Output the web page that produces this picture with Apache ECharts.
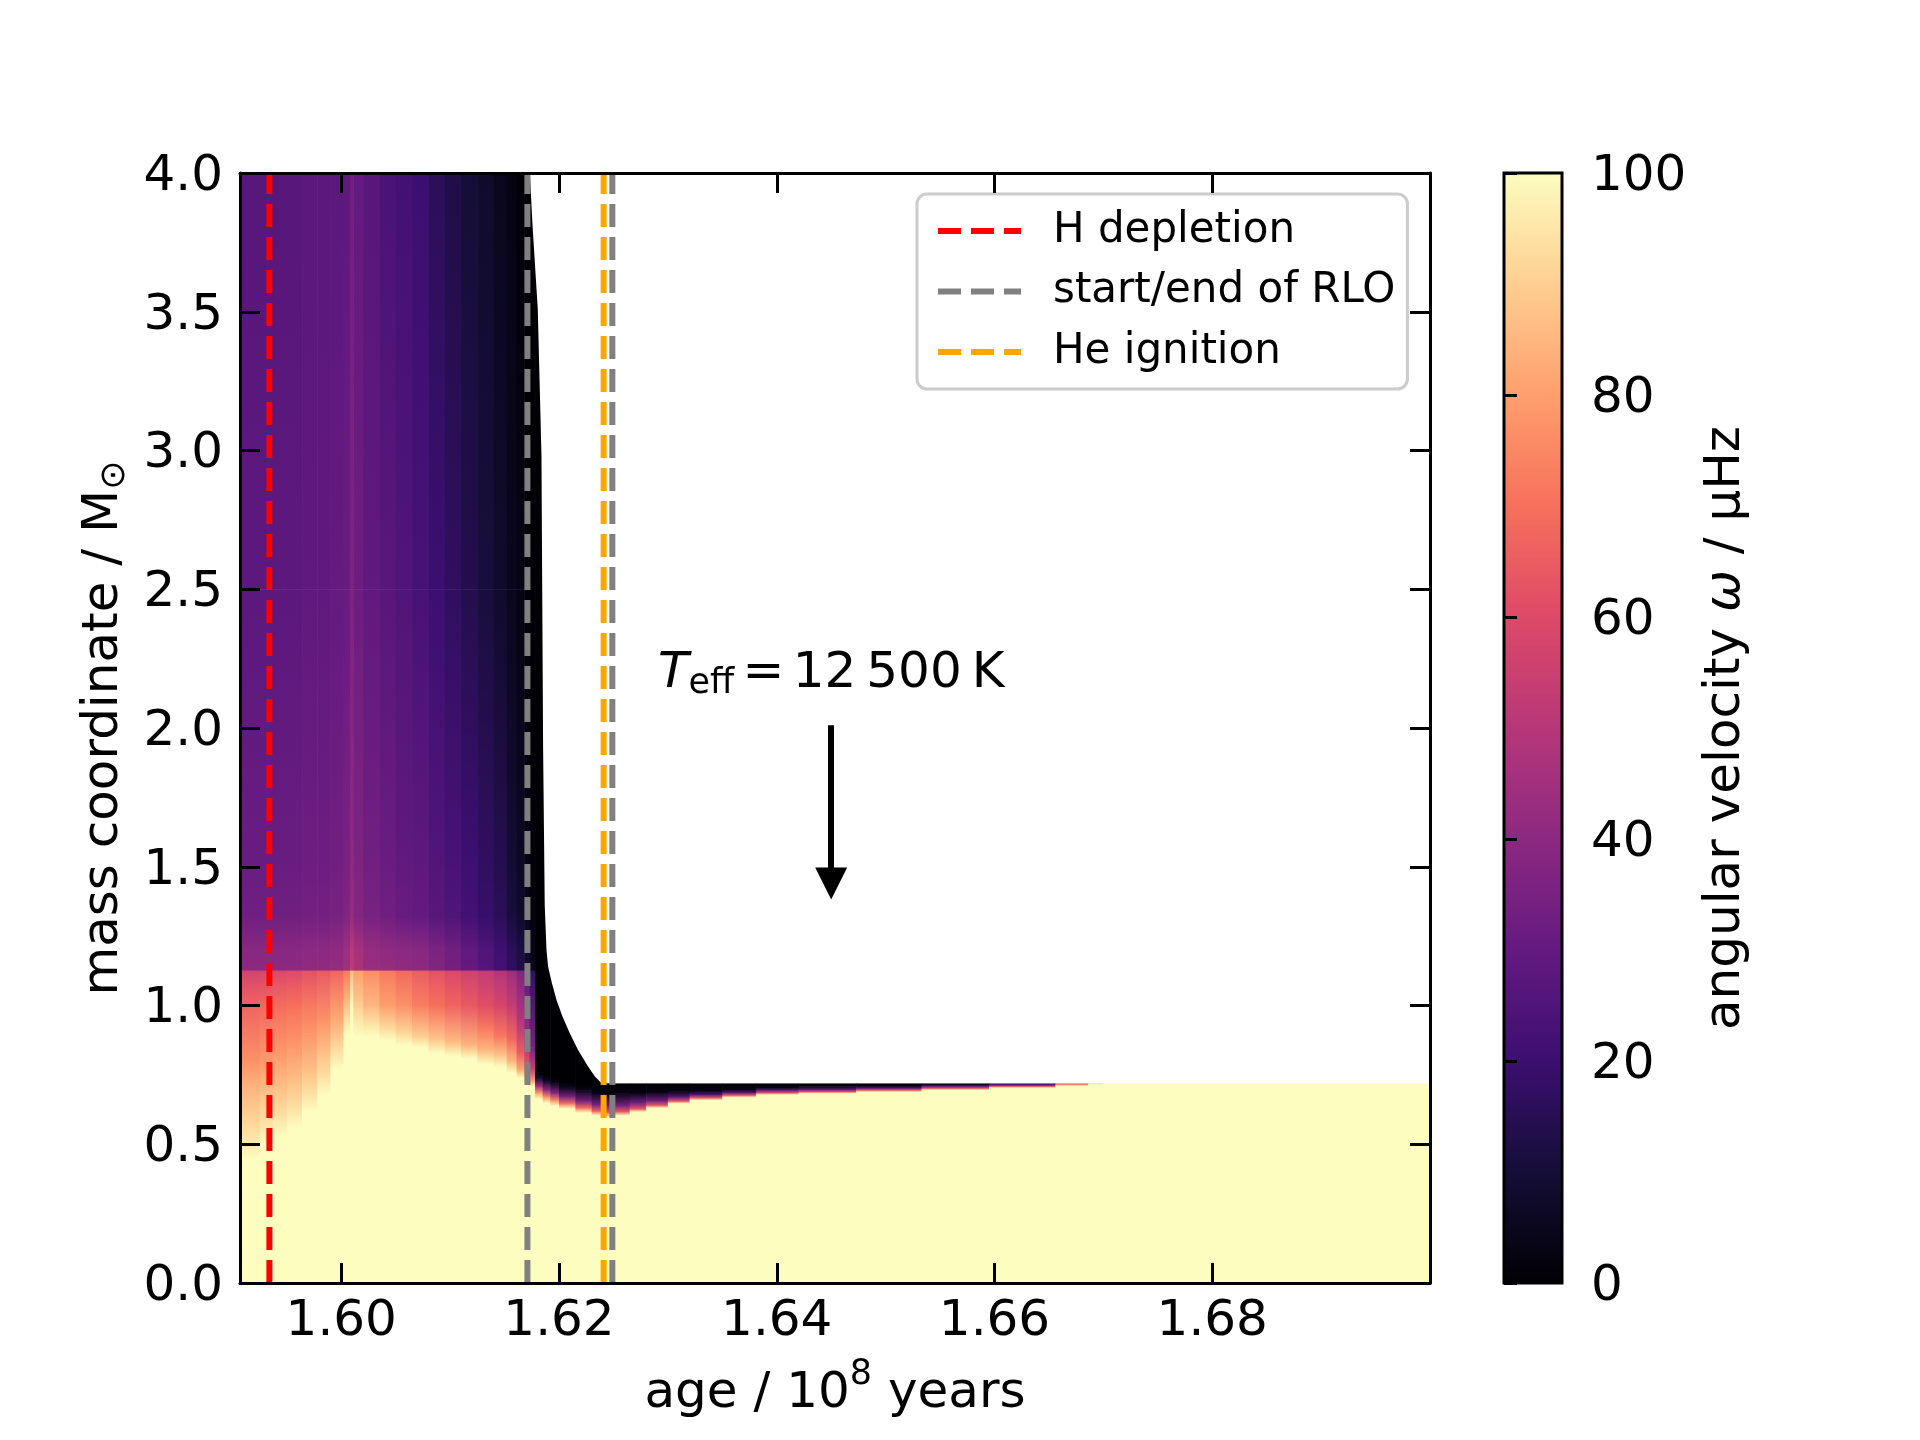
<!DOCTYPE html>
<html>
<head>
<meta charset="utf-8">
<title>angular velocity profile</title>
<script src="https://cdn.jsdelivr.net/npm/echarts@6.0.0/dist/echarts.min.js"></script>
<style>
html,body{margin:0;padding:0;background:#fff;}
#main{width:1920px;height:1440px;}
</style>
</head>
<body>
<div id="main"></div>
<script>
var FONT = 'DejaVu Sans';

// axis ranges and tick labels
var xMin = 1.5907, xMax = 1.70;
var yMin = 0, yMax = 4;
var xTicks = [1.60, 1.62, 1.64, 1.66, 1.68];
var cbMin = 0, cbMax = 100;

// matplotlib magma, 0 .. 1 in steps of 0.1
var magma = ['#000004','#140e36','#3b0f70','#641a80','#8c2981','#b73779',
             '#de4968','#f7705c','#fe9f6d','#fecf92','#fcfdbf'];

// left edge of each model column (age / 1e8 yr), last one runs to xMax
var colAge = [
  1.5907, 1.5925, 1.5937, 1.5950, 1.5964, 1.5978, 1.5990, 1.6002, 1.6008, 1.6011,
  1.6020, 1.6035, 1.6050, 1.6065, 1.6080, 1.6095, 1.6110, 1.6125, 1.6140, 1.6152,
  1.6161, 1.6168, 1.6173,
  1.6178, 1.6185, 1.6192, 1.6200, 1.6215, 1.6230, 1.6240,
  1.6250, 1.6265, 1.6280, 1.6300, 1.6320, 1.6350, 1.6381, 1.6420, 1.6473, 1.6533,
  1.6595, 1.6656, 1.6686, 1.6700
];

// omega profile of each column: [mass coordinate, omega / muHz], from centre outwards
var profiles = [
  [[0,100],[0.45,100],[0.50,96],[0.59,91],[0.71,84],[0.80,77],[1.0,67],[1.128,57],[1.128,40],[1.20,39],[1.32,33],[1.55,31],[2.5,28],[4,27]],
  [[0,100],[0.50,100],[0.56,95],[0.66,89],[0.78,80],[1.0,68],[1.128,58],[1.128,40],[1.20,39],[1.32,33],[1.55,31],[2.5,28],[4,27]],
  [[0,100],[0.53,100],[0.60,94],[0.70,87],[0.82,79],[1.0,69],[1.128,59],[1.128,40],[1.20,39],[1.32,33],[1.55,31],[2.5,28],[4,27]],
  [[0,100],[0.56,100],[0.63,94],[0.74,86],[0.86,78],[1.0,70],[1.128,60],[1.128,40],[1.20,39],[1.32,33],[1.55,31],[2.5,28],[4,27]],
  [[0,100],[0.62,100],[0.68,94],[0.78,86],[0.90,78],[1.0,72],[1.128,62],[1.128,41],[1.20,40],[1.32,34],[1.55,32],[2.5,29],[4,28]],
  [[0,100],[0.68,100],[0.74,94],[0.84,86],[0.95,77],[1.128,64],[1.128,41],[1.20,40],[1.32,34],[1.55,32],[2.5,29],[4,28]],
  [[0,100],[0.77,100],[0.83,94],[0.92,85],[1.0,78],[1.128,67],[1.128,42],[1.20,41],[1.32,35],[1.55,33],[2.5,30],[4,28]],
  [[0,100],[0.90,100],[0.96,92],[1.04,82],[1.128,72],[1.128,45],[1.20,44],[1.32,37],[1.55,35],[2.5,31],[4,29]],
  [[0,100],[1.00,100],[1.07,92],[1.128,86],[1.128,52],[1.20,51],[1.32,42],[1.55,40],[2.5,36],[4,33]],
  [[0,100],[0.89,100],[0.95,95],[1.02,88],[1.128,80],[1.128,47],[1.20,46],[1.32,38],[1.55,36],[2.5,32],[4,30]],
  [[0,100],[0.89,100],[0.93,95],[1.0,85],[1.128,76],[1.128,43],[1.20,42],[1.32,35],[1.55,33],[2.5,29],[4,27]],
  [[0,100],[0.875,100],[0.91,94],[1.0,80],[1.128,72],[1.128,42],[1.20,41],[1.32,33],[1.55,31],[2.5,27],[4,24]],
  [[0,100],[0.86,100],[0.90,92],[1.0,77],[1.128,68],[1.128,41],[1.20,40],[1.32,31],[1.55,29],[2.5,25],[4,22]],
  [[0,100],[0.85,100],[0.89,90],[1.0,73],[1.128,65],[1.128,40],[1.20,39],[1.32,30],[1.55,28],[2.5,23],[4,20]],
  [[0,100],[0.83,100],[0.88,88],[1.0,70],[1.128,62],[1.128,37],[1.20,36],[1.32,27],[1.55,25],[2.5,20],[4,16]],
  [[0,100],[0.82,100],[0.87,86],[1.0,67],[1.128,59],[1.128,34],[1.20,33],[1.32,25],[1.55,23],[2.5,17],[4,13]],
  [[0,100],[0.81,100],[0.86,84],[1.0,64],[1.128,56],[1.128,30],[1.20,29],[1.32,22],[1.55,20],[2.5,14],[4,10]],
  [[0,100],[0.79,100],[0.84,85],[0.92,72],[1.0,61],[1.128,53],[1.128,26],[1.20,25],[1.32,19],[1.55,17],[2.5,11],[4,8]],
  [[0,100],[0.78,100],[0.82,88],[0.89,72],[1.0,58],[1.128,49],[1.128,22],[1.20,21],[1.32,16],[1.55,14],[2.5,8],[4,5]],
  [[0,100],[0.76,100],[0.80,85],[0.88,68],[1.0,53],[1.128,44],[1.128,17],[1.20,16],[1.32,11],[1.55,9],[2.5,5],[4,3]],
  [[0,100],[0.74,100],[0.77,82],[0.83,65],[0.94,50],[1.128,37],[1.128,13],[1.20,12],[1.32,8],[1.55,6],[2.5,3],[4,1]],
  [[0,100],[0.72,100],[0.75,80],[0.80,60],[0.90,42],[1.128,28],[1.128,9],[1.20,8],[1.32,5],[1.55,3],[2.5,1],[4,0]],
  [[0,100],[0.71,100],[0.73,80],[0.77,55],[0.85,35],[1.128,18],[1.128,5],[1.20,4],[1.32,2],[1.55,1],[4,0]],
  // mass transfer: envelope spun down to ~0
  [[0,100],[0.665,100],[0.685,80],[0.71,45],[0.74,10],[0.76,0],[4,0]],
  [[0,100],[0.65,100],[0.67,78],[0.695,42],[0.73,6],[0.75,0],[4,0]],
  [[0,100],[0.64,100],[0.66,75],[0.685,40],[0.72,5],[0.74,0],[4,0]],
  [[0,100],[0.63,100],[0.647,72],[0.67,38],[0.705,5],[0.725,0],[4,0]],
  [[0,100],[0.615,100],[0.632,70],[0.655,36],[0.695,4],[0.715,0],[4,0]],
  [[0,100],[0.605,100],[0.62,68],[0.643,35],[0.685,4],[0.705,0],[4,0]],
  [[0,100],[0.60,100],[0.615,66],[0.637,35],[0.68,3],[0.70,0],[4,0]],
  // stripped helium star
  [[0,100],[0.605,100],[0.618,65],[0.64,35],[0.684,3],[0.72,0]],
  [[0,100],[0.618,100],[0.628,65],[0.648,35],[0.686,3],[0.72,0]],
  [[0,100],[0.632,100],[0.641,65],[0.658,33],[0.689,3],[0.72,0]],
  [[0,100],[0.648,100],[0.656,65],[0.670,30],[0.691,3],[0.72,0]],
  [[0,100],[0.660,100],[0.668,65],[0.680,25],[0.694,3],[0.72,0]],
  [[0,100],[0.670,100],[0.677,65],[0.688,25],[0.699,3],[0.72,0]],
  [[0,100],[0.680,100],[0.686,65],[0.695,30],[0.706,3],[0.72,0]],
  [[0,100],[0.685,100],[0.690,65],[0.698,30],[0.709,3],[0.72,0]],
  [[0,100],[0.690,100],[0.696,65],[0.703,30],[0.711,3],[0.72,0]],
  [[0,100],[0.697,100],[0.702,65],[0.710,30],[0.716,8],[0.72,3]],
  [[0,100],[0.705,100],[0.709,65],[0.715,30],[0.72,20]],
  [[0,100],[0.712,100],[0.716,75],[0.72,65]],
  [[0,100],[0.716,100],[0.72,90]],
  [[0,100],[0.72,100]]
];

// stellar surface (mass coordinate of the surface vs age) once RLO starts
var surfAge  = [1.61732,1.61757,1.61805,1.61839,1.61854,1.61869,1.61885,1.61900,1.61935,
                1.61977,1.62032,1.62099,1.62175,1.62267,1.62328,1.62390,1.70000];
var surfMass = [4.00,3.81,3.51,2.98,1.93,1.36,1.20,1.14,1.08,
                1.02,0.96,0.90,0.84,0.78,0.745,0.7196,0.7196];

// events
var hDepletion = 1.5934;
var rloStart = 1.6171, rloEnd = 1.6249;
var heIgnition = 1.6241;

// annotation
var teffAge = 1.645, teffTextMass = 2.19, arrowFrom = 2.01, arrowTo = 1.44;

function cmap(w) {
  return echarts.color.lerp(Math.max(0, Math.min(1, (w - cbMin) / (cbMax - cbMin))), magma);
}

var cells = [];
for (var i = 0; i < colAge.length; i++) {
  var a0 = colAge[i];
  var a1 = i + 1 < colAge.length ? colAge[i + 1] : xMax;
  var p = profiles[i];
  for (var j = 0; j + 1 < p.length; j++) {
    if (p[j + 1][0] > p[j][0]) {
      cells.push([a0, a1, p[j][0], p[j + 1][0], p[j][1], p[j + 1][1]]);
    }
  }
}

function renderCell(params, api) {
  var tl = api.coord([api.value(0), api.value(3)]);
  var br = api.coord([api.value(1), api.value(2)]);
  return {
    type: 'rect',
    shape: { x: tl[0], y: tl[1], width: br[0] - tl[0] + 0.6, height: br[1] - tl[1] + 0.6 },
    style: {
      fill: new echarts.graphic.LinearGradient(0, 0, 0, 1, [
        { offset: 0, color: cmap(api.value(5)) },
        { offset: 1, color: cmap(api.value(4)) }
      ])
    }
  };
}

function renderSurface(params, api) {
  if (params.dataIndex !== 0) return null;
  var pts = [];
  for (var i = 0; i < surfAge.length; i++) pts.push(api.coord([surfAge[i], surfMass[i]]));
  pts.push(api.coord([xMax, yMax]));
  return { type: 'polygon', shape: { points: pts }, style: { fill: '#ffffff' } };
}

function renderColorbar(params, api) {
  var tl = api.coord([0, cbMax]);
  var br = api.coord([1, cbMin]);
  var stops = [];
  for (var k = 0; k < magma.length; k++) {
    stops.push({ offset: k / (magma.length - 1), color: magma[magma.length - 1 - k] });
  }
  return {
    type: 'rect',
    shape: { x: tl[0], y: tl[1], width: br[0] - tl[0], height: br[1] - tl[1] },
    style: { fill: new echarts.graphic.LinearGradient(0, 0, 0, 1, stops), stroke: '#000', lineWidth: 3 }
  };
}

function vline(name, x, color) {
  return {
    name: name, type: 'line', xAxisIndex: 0, yAxisIndex: 0,
    data: [[x, yMin], [x, yMax]],
    symbol: 'none', silent: true, z: 3, clip: true,
    itemStyle: { color: color },
    lineStyle: { color: color, width: 6, type: [23, 10] }
  };
}

var blackLine = { color: '#000', width: 3 };
var tickFont = { fontFamily: FONT, fontSize: 50, color: '#000' };
// tick labels sit a few px lower than ECharts centres them
var tickRich = { v: { fontFamily: FONT, fontSize: 50, color: '#000', padding: [8, 0, 0, 0] } };

var chart = echarts.init(document.getElementById('main'));

chart.setOption({
  animation: false,
  backgroundColor: '#ffffff',
  textStyle: { fontFamily: FONT },
  grid: [
    { left: 240, top: 173, width: 1190, height: 1110, outerBoundsMode: 'none' },
    { left: 1504, top: 173, width: 58, height: 1110, outerBoundsMode: 'none' }
  ],
  xAxis: [
    {
      gridIndex: 0, type: 'value', min: xMin, max: xMax, position: 'bottom', z: 10,
      axisLine: { show: true, onZero: false, lineStyle: blackLine },
      axisTick: { show: true, inside: true, length: 20, lineStyle: blackLine, customValues: xTicks },
      axisLabel: Object.assign({ show: true, margin: 14, customValues: xTicks,
        formatter: function (v) { return v.toFixed(2); } }, tickFont),
      splitLine: { show: false },
      name: '{n|age / 10}{p|8}{n| years}',
      nameLocation: 'middle', nameGap: 74,
      nameTextStyle: {
        rich: {
          n: { fontFamily: FONT, fontSize: 50, color: '#000', verticalAlign: 'bottom', padding: [12, 0, 0, 0] },
          p: { fontFamily: FONT, fontSize: 35, color: '#000', verticalAlign: 'top' }
        }
      }
    },
    {
      gridIndex: 0, type: 'value', min: xMin, max: xMax, position: 'top', z: 10,
      axisLine: { show: true, onZero: false, lineStyle: blackLine },
      axisTick: { show: true, inside: true, length: 20, lineStyle: blackLine, customValues: xTicks },
      axisLabel: { show: false },
      splitLine: { show: false }
    },
    { gridIndex: 1, type: 'value', min: 0, max: 1, show: false }
  ],
  yAxis: [
    {
      gridIndex: 0, type: 'value', min: yMin, max: yMax, interval: 0.5, position: 'left', z: 10,
      axisLine: { show: true, onZero: false, lineStyle: blackLine },
      axisTick: { show: true, inside: true, length: 20, lineStyle: blackLine },
      axisLabel: Object.assign({ margin: 17, rich: tickRich,
        formatter: function (v) { return '{v|' + v.toFixed(1) + '}'; } }, tickFont),
      splitLine: { show: false },
      name: '{n|mass coordinate / M}{s|\u2299}',
      nameLocation: 'middle', nameRotate: 90, nameGap: 108,
      nameTextStyle: {
        rich: {
          n: { fontFamily: FONT, fontSize: 50, color: '#000', verticalAlign: 'bottom', padding: [0, 0, 3, 0] },
          s: { fontFamily: FONT, fontSize: 35, color: '#000', verticalAlign: 'bottom' }
        }
      }
    },
    {
      gridIndex: 0, type: 'value', min: yMin, max: yMax, interval: 0.5, position: 'right', z: 10,
      axisLine: { show: true, onZero: false, lineStyle: blackLine },
      axisTick: { show: true, inside: true, length: 20, lineStyle: blackLine },
      axisLabel: { show: false },
      splitLine: { show: false }
    },
    {
      gridIndex: 1, type: 'value', min: cbMin, max: cbMax, interval: 20, position: 'right', z: 10,
      axisLine: { show: false },
      axisTick: { show: true, inside: false, length: 13, lineStyle: blackLine },
      axisLabel: Object.assign({ margin: 29, rich: tickRich,
        formatter: function (v) { return '{v|' + v + '}'; } }, tickFont),
      splitLine: { show: false },
      name: '{n|angular velocity }{i|\u03c9}{n| / \u03bcHz}',
      nameLocation: 'middle', nameRotate: 90, nameGap: 139,
      nameTextStyle: {
        rich: {
          n: { fontFamily: FONT, fontSize: 50, color: '#000' },
          i: { fontFamily: FONT, fontSize: 50, color: '#000', fontStyle: 'italic' }
        }
      }
    }
  ],
  legend: {
    data: ['H depletion', 'start/end of RLO', 'He ignition'],
    orient: 'vertical', left: 917, top: 194,
    padding: [16, 12, 16, 18],
    itemWidth: 83, itemHeight: 20, itemGap: 18.5,
    backgroundColor: 'rgba(255,255,255,0.8)',
    borderColor: '#cccccc', borderWidth: 3, borderRadius: 10,
    textStyle: { fontFamily: FONT, fontSize: 42, color: '#000', padding: [0, 0, 0, 27] },
    itemStyle: { opacity: 0 },
    lineStyle: { width: 6 },
    selectedMode: false
  },
  series: [
    {
      type: 'custom', name: 'omega', xAxisIndex: 0, yAxisIndex: 0,
      renderItem: renderCell, data: cells, encode: { x: [0, 1], y: [2, 3] },
      clip: true, silent: true, z: 1
    },
    {
      type: 'custom', name: 'surface', xAxisIndex: 0, yAxisIndex: 0,
      renderItem: renderSurface,
      data: surfAge.map(function (a, i) { return [a, surfMass[i]]; }),
      encode: { x: 0, y: 1 }, clip: true, silent: true, z: 2
    },
    vline('H depletion', hDepletion, '#ff0000'),
    vline('start/end of RLO', rloStart, '#808080'),
    vline('He ignition', heIgnition, '#ffa500'),
    vline('start/end of RLO', rloEnd, '#808080'),
    {
      type: 'line', name: 'Teff', xAxisIndex: 0, yAxisIndex: 0, data: [], silent: true, z: 5,
      markLine: {
        silent: true, animation: false,
        symbol: ['none', 'triangle'], symbolSize: 32,
        lineStyle: { color: '#000', width: 6, type: 'solid' },
        itemStyle: { color: '#000' },
        label: { show: false },
        data: [[{ coord: [teffAge, arrowFrom] }, { coord: [teffAge, arrowTo] }]]
      },
      markPoint: {
        silent: true, animation: false,
        symbol: 'circle', symbolSize: 1,
        itemStyle: { color: 'rgba(0,0,0,0)' },
        label: {
          show: true, position: 'inside',
          formatter: '{t|T}{s|eff}{n|\u2006=\u200612\u2009500\u2009K}',
          rich: {
            t: { fontFamily: FONT, fontSize: 50, color: '#000', fontStyle: 'italic', verticalAlign: 'bottom', padding: [0, 0, 3, 0] },
            s: { fontFamily: FONT, fontSize: 35, color: '#000', verticalAlign: 'bottom' },
            n: { fontFamily: FONT, fontSize: 50, color: '#000', verticalAlign: 'bottom', padding: [0, 0, 3, 0] }
          }
        },
        data: [{ coord: [teffAge, teffTextMass] }]
      }
    },
    {
      type: 'custom', name: 'colorbar', xAxisIndex: 2, yAxisIndex: 2,
      renderItem: renderColorbar, data: [[0, cbMin, 1, cbMax]],
      encode: { x: [0, 2], y: [1, 3] }, silent: true, z: 1
    }
  ]
});
</script>
</body>
</html>
